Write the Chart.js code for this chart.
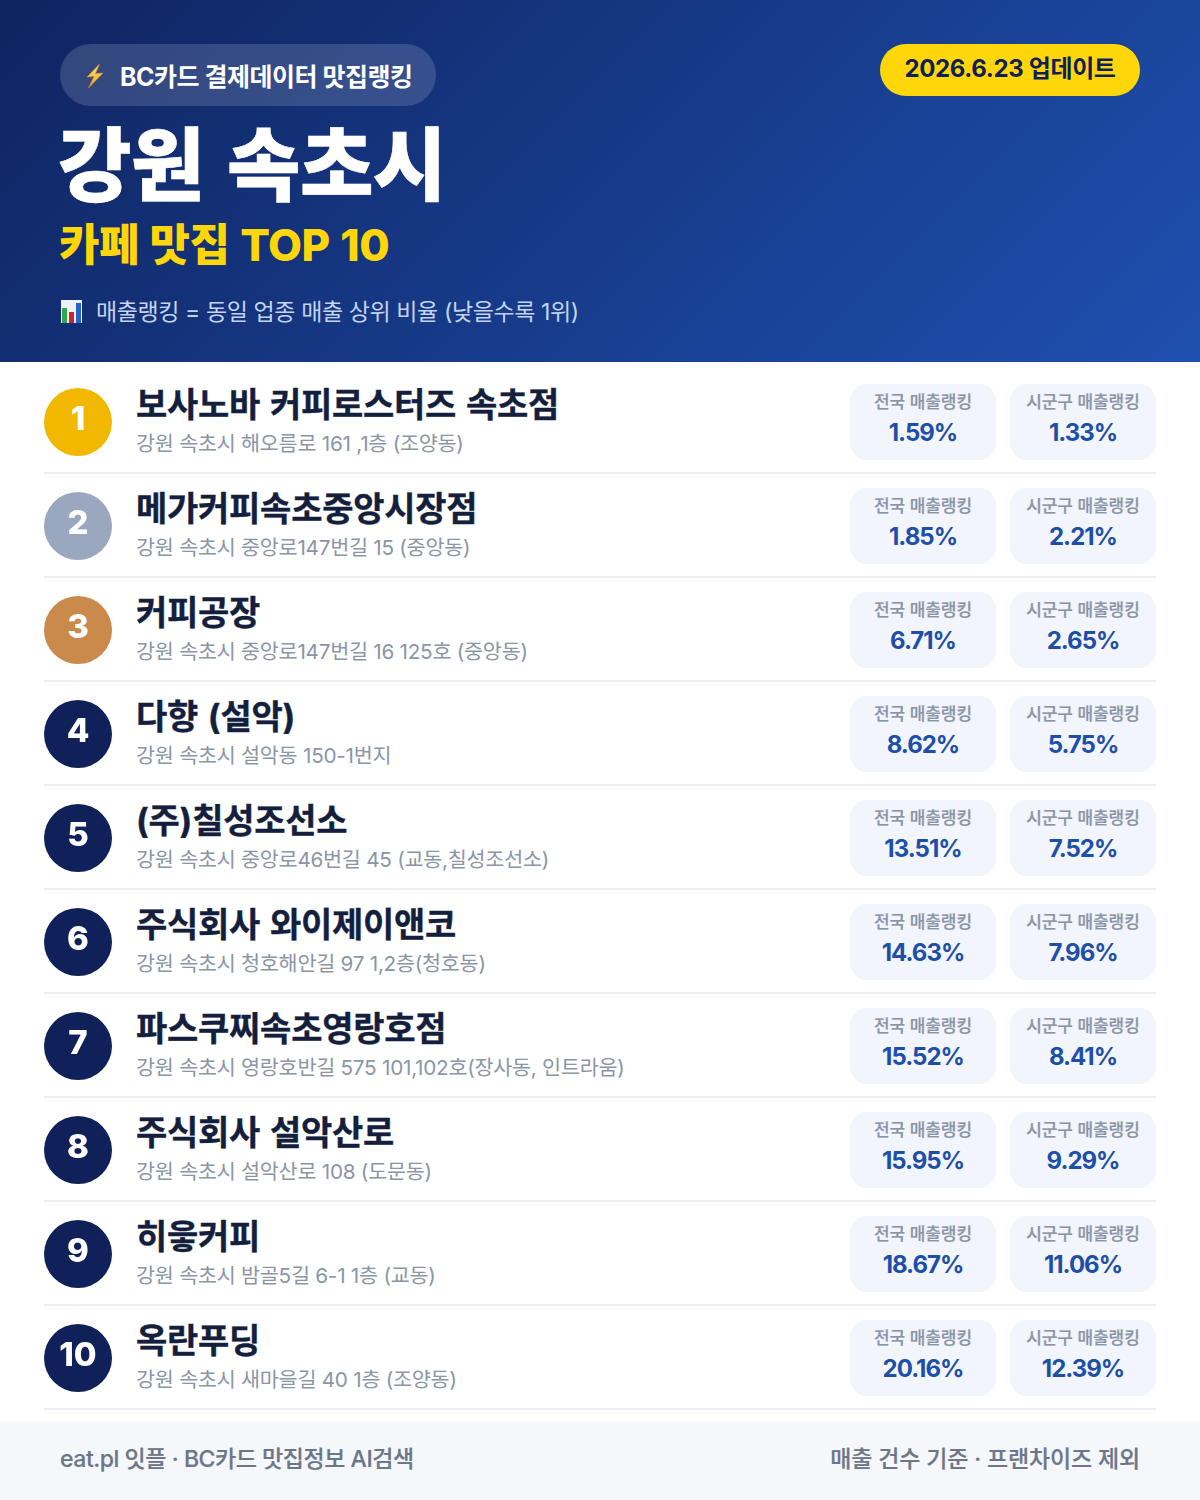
<!DOCTYPE html>
<html lang="ko">
<head>
<meta charset="utf-8">
<title>강원 속초시 카페 맛집 TOP 10</title>
<script src="https://cdn.jsdelivr.net/npm/chart.js@4"></script>
<style>
*{box-sizing:border-box;margin:0;padding:0}
html,body{width:1200px;height:1500px;background:#fff;overflow:hidden;font-family:Inter,"Noto Sans CJK KR","Noto Sans",sans-serif}
#page{position:relative;width:1200px;height:1500px}
.abs{position:absolute;white-space:nowrap}
#header{position:absolute;left:0;top:0;width:1200px;height:362px;background:linear-gradient(135deg,#0f2460 0%,#1e50b0 100%)}
#badge{left:60px;top:44px;width:376px;height:62px;border-radius:31px;background:rgba(255,255,255,.15)}
#badgeText{left:120px;top:46px;line-height:62px;font-size:25px;font-weight:700;color:#fff;letter-spacing:-.5px}
#dateBadge{left:880px;top:44px;width:260px;height:52px;border-radius:26px;background:#FFD60A;color:#0f1f5c;font-size:24px;font-weight:700;line-height:50px;text-align:center;letter-spacing:-.35px}
#title{left:58px;top:113px;line-height:104px;font-size:80px;font-weight:900;color:#fff;letter-spacing:-.7px;word-spacing:8px;-webkit-text-stroke:.6px #fff}
#subtitle{left:59px;top:215px;line-height:60px;font-size:44px;font-weight:800;color:#FFD60A;letter-spacing:-.5px;word-spacing:1.5px}
#note{left:96px;top:293px;line-height:38px;font-size:23px;font-weight:400;color:#c4d4f0;letter-spacing:-.4px}
#rankChart{position:absolute;left:10px;top:336px}
.rule{position:absolute;left:44px;width:1112px;height:2px;background:#eceef2}
.name{left:136px;line-height:52px;font-size:34px;font-weight:700;color:#141f3d;letter-spacing:-.25px;word-spacing:2px;-webkit-text-stroke:.35px #141f3d}
.addr{left:136px;line-height:32px;font-size:20.7px;font-weight:400;color:#8b95a5;letter-spacing:-.25px}
.card{position:absolute;width:146px;height:76px;border-radius:17px;background:#f2f5fc;text-align:center}
.card .lab{position:absolute;left:0;right:0;top:5px;line-height:26px;font-size:17px;font-weight:500;color:#8a94a6;letter-spacing:-.05px;-webkit-text-stroke:.2px #8a94a6}
.card .val{position:absolute;left:0;right:0;top:31px;line-height:36px;font-size:24px;font-weight:700;color:#1e4fa8;letter-spacing:-1px}
#footer{position:absolute;left:0;top:1422px;width:1200px;height:78px;background:#f5f7fb}
.foot{top:0;line-height:74px;font-size:23px;font-weight:500;color:#6b7688;-webkit-text-stroke:.2px #6b7688}
svg.icon{position:absolute}
</style>
</head>
<body>
<div id="page">
  <div id="header">
    <div class="abs" id="badge"></div>
    <svg class="icon" style="left:82px;top:62px" width="26" height="28" viewBox="0 0 26 28" aria-hidden="true">
      <defs><linearGradient id="bolt" x1="0" y1="0" x2="0" y2="1"><stop offset="0" stop-color="#fde27a"/><stop offset="1" stop-color="#f2a91e"/></linearGradient></defs>
      <path d="M17.5 2 L5 15 L12 14.5 L6.5 26 L21 11 L13.5 11.5 Z" fill="url(#bolt)" stroke="#d98a20" stroke-width=".6"/>
    </svg>
    <div class="abs" id="badgeText">BC카드 결제데이터 맛집랭킹</div>
    <div class="abs" id="dateBadge">2026.6.23 업데이트</div>
    <div class="abs" id="title">강원 속초시</div>
    <div class="abs" id="subtitle">카페 맛집 TOP 10</div>
    <svg class="icon" style="left:60px;top:299px" width="24" height="24" viewBox="0 0 24 24" aria-hidden="true">
      <rect x="1" y="1" width="21" height="23" fill="#eef2f6"/>
      <rect x="2" y="9" width="5" height="15" fill="#2fa84a"/>
      <rect x="9" y="13" width="5" height="11" fill="#d2232a"/>
      <rect x="16" y="4" width="5" height="20" fill="#2563c7"/>
    </svg>
    <div class="abs" id="note">매출랭킹 = 동일 업종 매출 상위 비율 (낮을수록 1위)</div>
  </div>
  <div id="rows"></div>
  <canvas id="rankChart" width="136" height="1108"></canvas>
  <div id="footer">
    <div class="abs foot" style="left:60px;letter-spacing:-.45px">eat.pl 잇플 · BC카드 맛집정보 AI검색</div>
    <div class="abs foot" style="right:60px;letter-spacing:-.15px">매출 건수 기준 · 프랜차이즈 제외</div>
  </div>
</div>
<script>
const ranks = [1,2,3,4,5,6,7,8,9,10];
const names = ["보사노바 커피로스터즈 속초점","메가커피속초중앙시장점","커피공장","다향 (설악)","(주)칠성조선소","주식회사 와이제이앤코","파스쿠찌속초영랑호점","주식회사 설악산로","히읗커피","옥란푸딩"];
const addresses = ["강원 속초시 해오름로 161 ,1층 (조양동)","강원 속초시 중앙로147번길 15 (중앙동)","강원 속초시 중앙로147번길 16 125호 (중앙동)","강원 속초시 설악동 150-1번지","강원 속초시 중앙로46번길 45 (교동,칠성조선소)","강원 속초시 청호해안길 97 1,2층(청호동)","강원 속초시 영랑호반길 575 101,102호(장사동, 인트라움)","강원 속초시 설악산로 108 (도문동)","강원 속초시 밤골5길 6-1 1층 (교동)","강원 속초시 새마을길 40 1층 (조양동)"];
const nationalRank = [1.59,1.85,6.71,8.62,13.51,14.63,15.52,15.95,18.67,20.16];
const cityRank = [1.33,2.21,2.65,5.75,7.52,7.96,8.41,9.29,11.06,12.39];
const rankColors = ["#F2B800","#9AA8BF","#C98A4B","#0F2158","#0F2158","#0F2158","#0F2158","#0F2158","#0F2158","#0F2158"];
const nationalLabel = "전국 매출랭킹";
const cityLabel = "시군구 매출랭킹";

const rows = document.getElementById('rows');
const PITCH = 104, TOP = 370;
function el(cls, text, style){
  const d = document.createElement('div');
  d.className = cls; d.textContent = text;
  if(style) d.style.cssText = style;
  return d;
}
function card(label, value, left, top){
  const c = el('card','', `left:${left}px;top:${top}px`);
  c.appendChild(el('lab',label));
  c.appendChild(el('val',value.toFixed(2)+'%'));
  return c;
}
ranks.forEach((r,i)=>{
  const t = TOP + PITCH*i;
  rows.appendChild(el('abs name', names[i], `top:${t+9}px`));
  rows.appendChild(el('abs addr', addresses[i], `top:${t+58}px`));
  rows.appendChild(card(nationalLabel, nationalRank[i], 850, t+14));
  rows.appendChild(card(cityLabel, cityRank[i], 1010, t+14));
  rows.appendChild(el('rule','',`top:${t+102}px`));
});

const rankNumberPlugin = {
  id:'rankNumbers',
  afterDatasetsDraw(chart){
    const ctx = chart.ctx;
    const meta = chart.getDatasetMeta(0);
    ctx.save();
    ctx.fillStyle = '#fff';
    ctx.textAlign = 'center';
    ctx.textBaseline = 'middle';
    ctx.font = '800 33px Inter, "Noto Sans CJK KR"';
    meta.data.forEach((pt,i)=> ctx.fillText(String(ranks[i]), pt.x, pt.y-2));
    ctx.restore();
  }
};
new Chart(document.getElementById('rankChart'),{
  type:'scatter',
  data:{datasets:[{
    label:'순위',
    data:ranks.map(r=>({x:0,y:r})),
    pointRadius:34,
    pointHoverRadius:34,
    borderWidth:0,
    pointBorderWidth:0,
    pointBackgroundColor:rankColors,
    clip:false
  }]},
  options:{
    responsive:false,
    animation:false,
    devicePixelRatio:1,
    layout:{padding:0},
    plugins:{legend:{display:false},tooltip:{enabled:false}},
    scales:{
      x:{type:'linear',min:-1,max:1,display:false},
      y:{type:'linear',min:0.5,max:10.5,reverse:true,display:false}
    }
  },
  plugins:[rankNumberPlugin]
});
</script>
</body>
</html>
